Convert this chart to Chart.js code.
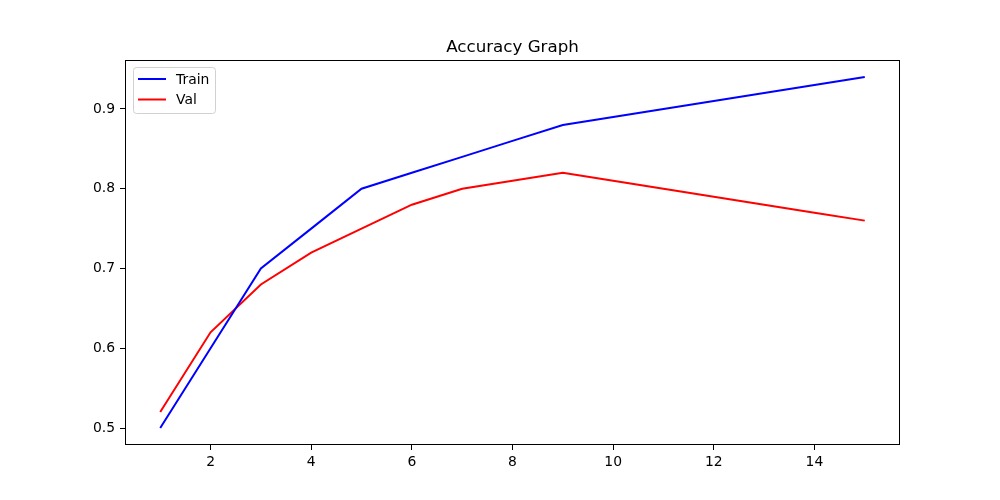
<!DOCTYPE html>
<html>
<head>
<meta charset="utf-8">
<script src="https://cdn.jsdelivr.net/npm/chart.js@4/dist/chart.umd.min.js"></script>
<style>
  html, body { margin: 0; padding: 0; background: #fff; }
  #wrap { width: 1000px; height: 500px; }
</style>
</head>
<body>
<div id="wrap"><canvas id="acc" width="1000" height="500"></canvas></div>
<script>
// values
const epochs = [1, 2, 3, 4, 5, 6, 7, 8, 9, 10, 11, 12, 13, 14, 15];
const trainAcc = [0.50, 0.60, 0.70, 0.75, 0.80, 0.82, 0.84, 0.86, 0.88, 0.89, 0.90, 0.91, 0.92, 0.93, 0.94];
const valAcc = [0.52, 0.62, 0.68, 0.72, 0.75, 0.78, 0.80, 0.81, 0.82, 0.81, 0.80, 0.79, 0.78, 0.77, 0.76];
const xTicks = [2, 4, 6, 8, 10, 12, 14];
const yTicks = [0.5, 0.6, 0.7, 0.8, 0.9];
const chartTitle = "Accuracy Graph";

const font = "'DejaVu Sans', sans-serif";

const toPoints = (vals) => vals.map((v, i) => ({ x: epochs[i], y: v }));

// frame, title and legend drawn the matplotlib way
const decorations = {
  id: "decorations",
  afterDraw(chart) {
    const { ctx, chartArea: a } = chart;
    ctx.save();
    ctx.strokeStyle = "#000";
    ctx.lineWidth = 1;
    ctx.strokeRect(a.left + 0.5, a.top + 0.5, a.right - a.left - 1, a.bottom - a.top - 1);

    ctx.fillStyle = "#000";
    ctx.font = "16.7px " + font;
    ctx.textAlign = "center";
    ctx.textBaseline = "alphabetic";
    ctx.fillText(chartTitle, (a.left + a.right) / 2, 52);

    // legend box
    const bx = 133, by = 67, bw = 82, bh = 46, r = 3;
    ctx.beginPath();
    ctx.roundRect(bx + 0.5, by + 0.5, bw, bh, r);
    ctx.fillStyle = "rgba(255,255,255,0.8)";
    ctx.fill();
    ctx.strokeStyle = "rgba(204,204,204,0.9)";
    ctx.lineWidth = 1;
    ctx.stroke();

    ctx.font = "13.9px " + font;
    ctx.textAlign = "left";
    ctx.textBaseline = "middle";
    chart.data.datasets.forEach((ds, i) => {
      const y = 79 + i * 20.5;
      ctx.beginPath();
      ctx.moveTo(138, y);
      ctx.lineTo(166, y);
      ctx.strokeStyle = ds.borderColor;
      ctx.lineWidth = 2;
      ctx.stroke();
      ctx.fillStyle = "#000";
      ctx.fillText(ds.label, 176, y + 1);
    });
    ctx.restore();
  }
};

new Chart(document.getElementById("acc"), {
  type: "line",
  data: {
    datasets: [
      { label: "Train", data: toPoints(trainAcc), borderColor: "#0000ff", borderWidth: 2, pointRadius: 0, tension: 0, fill: false },
      { label: "Val", data: toPoints(valAcc), borderColor: "#ff0000", borderWidth: 2, pointRadius: 0, tension: 0, fill: false }
    ]
  },
  options: {
    responsive: false,
    animation: false,
    devicePixelRatio: 1,
    layout: { padding: { top: 60, right: 100, left: 0, bottom: 0 } },
    plugins: {
      legend: { display: false },
      title: { display: false },
      tooltip: { enabled: false }
    },
    scales: {
      x: {
        type: "linear",
        min: 0.3,
        max: 15.7,
        afterBuildTicks: (s) => { s.ticks = xTicks.map((v) => ({ value: v })); },
        afterFit: (s) => { s.height = 55; },
        grid: { drawOnChartArea: false, tickLength: 5, tickColor: "#000", tickWidth: 1 },
        border: { display: false },
        ticks: { color: "#000", font: { family: font, size: 13.9 }, padding: 4, maxRotation: 0 }
      },
      y: {
        min: 0.4787,
        max: 0.9614,
        afterBuildTicks: (s) => { s.ticks = yTicks.map((v) => ({ value: v })); },
        afterFit: (s) => { s.width = 125; },
        grid: { drawOnChartArea: false, tickLength: 5, tickColor: "#000", tickWidth: 1 },
        border: { display: false },
        ticks: { color: "#000", font: { family: font, size: 13.9 }, padding: 5, callback: (v) => v.toFixed(1) }
      }
    }
  },
  plugins: [decorations]
});
</script>
</body>
</html>
